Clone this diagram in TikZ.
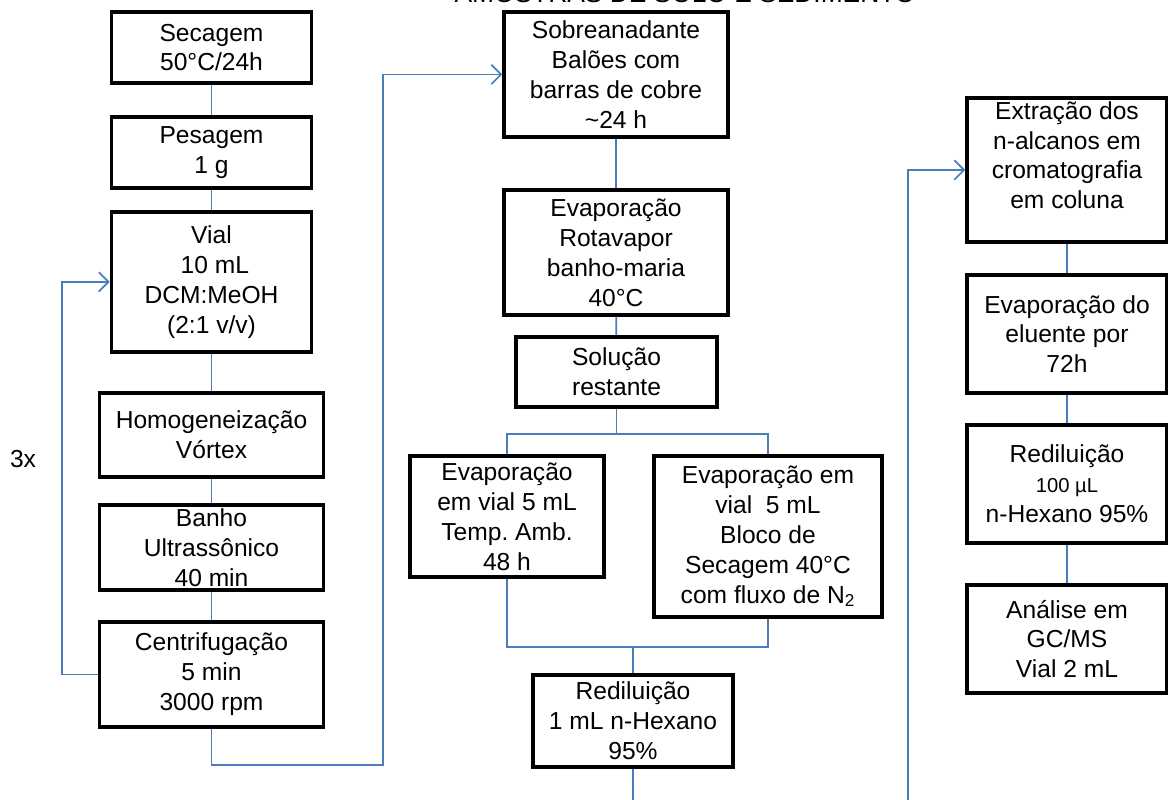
\documentclass[tikz,border=0pt]{standalone}
\usepackage{fontspec}
\setmainfont{Liberation Sans}
\usepackage{tikz}
\usetikzlibrary{positioning,arrows.meta,calc}

\definecolor{linkblue}{HTML}{4A7EBB}
\newcommand{\boxfont}{\fontsize{14}{17}\selectfont}
\frenchspacing

\begin{document}
\begin{tikzpicture}[
  proc/.style={rectangle,draw,line width=2pt,inner sep=0pt,align=center,font=\boxfont},
  link/.style={draw=linkblue,line width=1pt},
  feed/.style={link,-{Straight Barb[length=5.5pt,width=11pt]}},
]
\useasboundingbox (0,0) rectangle (23.36,16);
\clip (0,0) rectangle (23.36,16);

% Title (cut at the top)
\node[anchor=base,font=\fontsize{15}{18}\selectfont] (title) at (13.7,15.94) {AMOSTRAS DE SOLO E SEDIMENTO};

% Left column
\node[proc,minimum width=4cm,minimum height=1.42cm] (sec) at (4.23,15.05) {Secagem\\50°C/24h};
\node[proc,minimum width=4cm,minimum height=1.42cm] (pes) at (4.23,12.95) {Pesagem\\1 g};
\node[proc,minimum width=4cm,minimum height=2.8cm] (vial) at (4.23,10.36) {Vial\\\ 10 mL\\DCM:MeOH\\(2:1 v/v)};
\node[proc,minimum width=4.48cm,minimum height=1.68cm] (homo) at (4.23,7.30) {Homogeneização\\Vórtex};
\node[proc,minimum width=4.48cm,minimum height=1.7cm] (banho) at (4.23,5.05) {Banho\\Ultrassônico\\40 min};
\node[proc,minimum width=4.48cm,minimum height=2.1cm] (cent) at (4.23,2.51) {Centrifugação\\5 min\\3000 rpm};
\node[font=\boxfont] (rep) at (0.46,6.82) {3x};

\draw[link] (sec) -- (pes);
\draw[link] (pes) -- (vial);
\draw[link] (vial) -- (homo);
\draw[link] (homo) -- (banho);
\draw[link] (banho) -- (cent);
\draw[feed] (cent.west) -- ++(-0.72,0) |- (vial.west);

% Middle column
\node[proc,minimum width=4.48cm,minimum height=2.5cm] (sob) at (12.32,14.51) {Sobreanadante\\Balões com\\barras de cobre\\\textasciitilde24 h};
\node[proc,minimum width=4.48cm,minimum height=2.5cm] (evap1) at (12.32,10.95) {Evaporação\\Rotavapor\\banho-maria\\40°C};
\node[proc,minimum width=4.02cm,minimum height=1.4cm] (sol) at (12.33,8.56) {Solução\\restante};
\node[proc,minimum width=3.88cm,minimum height=2.42cm] (evL) at (10.14,5.67) {Evaporação\\em vial 5 mL\\Temp. Amb.\\48 h};
\node[proc,minimum width=4.56cm,minimum height=3.22cm] (evR) at (15.36,5.27) {Evaporação em\\vial~ 5 mL\\Bloco de\\Secagem 40°C\\com fluxo de N\textsubscript{2}};
\node[proc,minimum width=4cm,minimum height=1.84cm] (red1) at (12.66,1.58) {Rediluição\\1 mL n-Hexano\\95\%};

\coordinate (c1) at (7.66,0.7);
\draw[feed] (cent.south) |- (c1) |- (sob.west);
\draw[link] (sob) -- (evap1);
\draw[link] (evap1) -- (sol);
\draw[link] (sol.south) -- ++(0,-0.5) -| (evL.north);
\draw[link] (sol.south) -- ++(0,-0.5) -| (evR.north);
\coordinate (join) at (12.66,3.06);
\draw[link] (evL.south) |- (join) -| (evR.south);
\draw[link] (join) -- (red1.north);
\coordinate (out1) at (12.66,0);
\draw[link] (red1.south) -- (out1);

% Right column
\node[proc,minimum width=4cm,minimum height=2.88cm] (ext) at (21.34,12.60) {Extração dos\\n-alcanos em\\cromatografia\\em coluna\\~};
\node[proc,minimum width=4cm,minimum height=2.36cm] (evap2) at (21.34,9.32) {Evaporação do\\eluente por\\72h};
\node[proc,minimum width=4cm,minimum height=2.36cm] (red2) at (21.34,6.32) {Rediluição\\{\fontsize{11.5}{17}\selectfont 100 µL}\\n-Hexano 95\%};
\node[proc,minimum width=4cm,minimum height=2.16cm] (ana) at (21.34,3.22) {Análise em\\GC/MS\\Vial 2 mL};

\coordinate (in2) at (18.16,0);
\draw[feed] (in2) |- (ext.west);
\draw[link] (ext) -- (evap2);
\draw[link] (evap2) -- (red2);
\draw[link] (red2) -- (ana);
\end{tikzpicture}
\end{document}
